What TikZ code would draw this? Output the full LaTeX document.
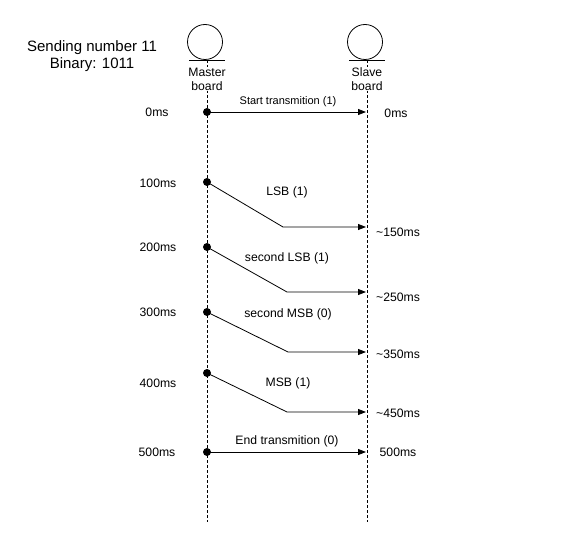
\documentclass[tikz,border=0pt]{standalone}
\usepackage{fontspec}
\setmainfont{Liberation Sans}
\usetikzlibrary{arrows.meta}
\begin{document}
\begin{tikzpicture}[x=1pt,y=-1pt,
  lifeline/.style={densely dashed, line width=0.8pt},
  msg/.style={-{Triangle[length=8pt,width=6pt]}, line width=0.8pt},
  dotpt/.style={circle, fill=black, inner sep=0pt, minimum size=8pt},
  lbl/.style={font=\fontsize{12.2}{14}\selectfont, inner sep=0pt},
  small/.style={font=\fontsize{11}{12}\selectfont, inner sep=0pt},
  ent/.style={circle, draw, line width=0.8pt, minimum size=35pt, inner sep=0pt}]
\useasboundingbox[fill=white] (0,0) rectangle (569,548);
% title
\node[font=\fontsize{15}{16.5}\selectfont, align=center] (title) at (92,56) {Sending number 11\\Binary: 1011};
% entities
\node[ent] (mc) at (205,42) {};
\node[ent] (sc) at (365,42) {};
\coordinate (mtop) at (207,60);
\coordinate (stop) at (367,60);
\coordinate (mbot) at (207,522);
\coordinate (sbot) at (367,522);
\draw[line width=0.8pt] (189,60) -- (225,60);
\draw[line width=0.8pt] (349,60) -- (385,60);
\draw[lifeline] (mtop) -- (mbot);
\draw[lifeline] (stop) -- (sbot);
\node[lbl, align=center, fill=white, inner sep=0.5pt] (mname) at (207,79) {Master\\board};
\node[lbl, align=center, fill=white, inner sep=0.5pt] (sname) at (367,79) {Slave\\board};
% events
\node[dotpt] (d0) at (207,112) {};
\coordinate (e0) at (366,112);
\draw[msg] (d0.center) -- (e0);
\node[small] (l0) at (288,102) {Start transmition (1)};
\node[lbl] (t0) at (157,112) {0ms};
\node[lbl] (r0) at (396,113) {0ms};

\node[dotpt] (d1) at (207,182) {};
\coordinate (b1) at (283,227);
\coordinate (e1) at (366,227);
\draw[msg] (d1.center) -- (b1) -- (e1);
\node[lbl] (l1) at (287,192) {LSB (1)};
\node[lbl] (t1) at (158,183) {100ms};
\node[lbl] (r1) at (398,232) {\textasciitilde150ms};

\node[dotpt] (d2) at (207,247) {};
\coordinate (b2) at (287,292);
\coordinate (e2) at (366,292);
\draw[msg] (d2.center) -- (b2) -- (e2);
\node[lbl] (l2) at (287,258) {second LSB (1)};
\node[lbl] (t2) at (158,247) {200ms};
\node[lbl] (r2) at (398,297) {\textasciitilde250ms};

\node[dotpt] (d3) at (207,312) {};
\coordinate (b3) at (288,352);
\coordinate (e3) at (366,352);
\draw[msg] (d3.center) -- (b3) -- (e3);
\node[lbl] (l3) at (288,314) {second MSB (0)};
\node[lbl] (t3) at (158,312) {300ms};
\node[lbl] (r3) at (398,354) {\textasciitilde350ms};

\node[dotpt] (d4) at (207,373) {};
\coordinate (b4) at (287,412);
\coordinate (e4) at (366,412);
\draw[msg] (d4.center) -- (b4) -- (e4);
\node[lbl] (l4) at (288,383) {MSB (1)};
\node[lbl] (t4) at (158,383) {400ms};
\node[lbl] (r4) at (398,413) {\textasciitilde450ms};

\node[dotpt] (d5) at (207,452) {};
\coordinate (e5) at (366,452);
\draw[msg] (d5.center) -- (e5);
\node[lbl] (l5) at (287,441) {End transmition (0)};
\node[lbl] (t5) at (157,452) {500ms};
\node[lbl] (r5) at (398,452) {500ms};
\end{tikzpicture}
\end{document}
